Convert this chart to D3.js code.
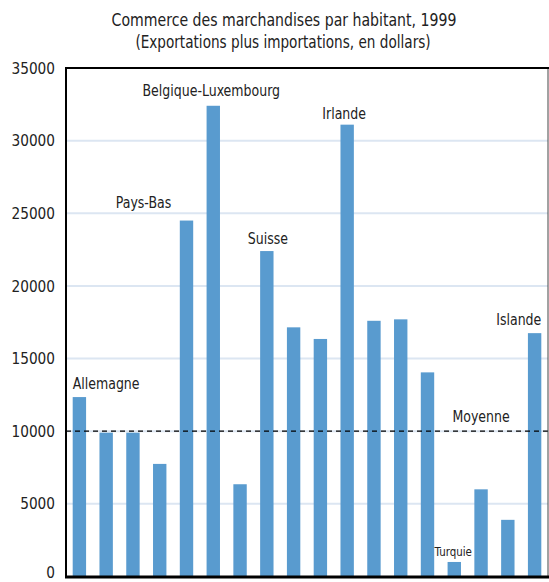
<!DOCTYPE html>
<html>
<head>
<meta charset="utf-8">
<script src="https://cdn.jsdelivr.net/npm/d3@7"></script>
<style>
  body { margin: 0; background: #fff; }
  svg { display: block; }
  text { font-family: "Liberation Sans Narrow", "DejaVu Sans Condensed", sans-serif; fill: #222; }
</style>
</head>
<body>
<svg id="chart" width="549" height="582"></svg>
<script>
// 18 pays, ordre du graphique
const countries = ["Allemagne", "Autriche", "Danemark", "France", "Pays-Bas",
    "Belgique-Luxembourg", "Espagne", "Suisse", "Finlande", "Suède", "Irlande",
    "Norvège", "Canada", "Royaume-Uni", "Turquie", "Grèce", "Pologne", "Islande"];
const values = [12350, 9900, 9900, 7750, 24500, 32400, 6350, 22400, 17150,
    16350, 31100, 17600, 17700, 14050, 1000, 6000, 3900, 16750];
const average = 10000;
const yTicks = [0, 5000, 10000, 15000, 20000, 25000, 30000, 35000];
const labelled = ["Allemagne", "Pays-Bas", "Belgique-Luxembourg", "Suisse", "Irlande", "Turquie", "Islande"];

// placement des étiquettes (décalage par rapport au sommet de la barre)
const labelPlace = {
    "Allemagne": {anchor: "start", dx: 0, dy: -8},
    "Pays-Bas": {anchor: "middle", dx: -43, dy: -13},
    "Belgique-Luxembourg": {anchor: "middle", dx: -2, dy: -10},
    "Suisse": {anchor: "middle", dx: 1, dy: -7},
    "Irlande": {anchor: "middle", dx: -3, dy: -6},
    "Turquie": {anchor: "middle", dx: -1, dy: -6, size: 13, k: 0.88},
    "Islande": {anchor: "end", dx: 0, dy: -8}
};

const svg = d3.select("#chart");
const mLeft = 66, mRight = 548, mTop = 68, mBottom = 576.5;

// la police d'origine est plus étroite : on resserre le texte
function condense(sel, k) {
    sel.each(function(d) {
        let f = typeof k == "function" ? k(d) : k;
        let w = this.getComputedTextLength();
        d3.select(this)
            .attr("textLength", w * f)
            .attr("lengthAdjust", "spacingAndGlyphs");
    });
}

const x = d3.scaleBand()
    .domain(countries)
    .range([mLeft, mRight])
    .paddingInner(0.5)
    .paddingOuter(0.25);

const y = d3.scaleLinear()
    .domain([0, 35000])
    .range([mBottom, mTop]);

// titre
svg.append("text")
    .attr("x", 284).attr("y", 26)
    .attr("text-anchor", "middle")
    .style("font-size", "18px")
    .text("Commerce des marchandises par habitant, 1999")
    .call(condense, 0.87);
svg.append("text")
    .attr("x", 283).attr("y", 48)
    .attr("text-anchor", "middle")
    .style("font-size", "18px")
    .text("(Exportations plus importations, en dollars)")
    .call(condense, 0.84);

// grille
svg.append("g")
    .selectAll("line")
    .data(yTicks.filter(d => d > 0 && d < 35000))
    .enter()
    .append("line")
    .attr("x1", mLeft).attr("x2", mRight)
    .attr("y1", d => y(d)).attr("y2", d => y(d))
    .attr("stroke", "#dce6f2")
    .attr("stroke-width", 2);

// axe y
const yAxis = svg.append("g")
    .attr("transform", "translate(" + mLeft + ",0)")
    .call(d3.axisLeft(y).tickValues(yTicks).tickSize(0).tickPadding(11).tickFormat(d3.format("d")));
yAxis.select(".domain").remove();
yAxis.selectAll("text")
    .style("font-size", "16px")
    .style("font-family", "\"Liberation Sans Narrow\", \"DejaVu Sans Condensed\", sans-serif")
    .attr("fill", "#333")
    .call(condense, 0.95);
yAxis.selectAll(".tick").filter(d => d == 0).select("text").attr("dy", "0.08em");

// barres
svg.append("g")
    .selectAll("rect")
    .data(values)
    .enter()
    .append("rect")
    .attr("x", (d, i) => x(countries[i]))
    .attr("y", d => y(d))
    .attr("width", x.bandwidth())
    .attr("height", d => y(0) - y(d))
    .attr("fill", "#599bcf");

// moyenne
svg.append("line")
    .attr("x1", mLeft).attr("x2", mRight + 1)
    .attr("y1", y(average)).attr("y2", y(average))
    .attr("stroke", "#000")
    .attr("stroke-width", 1.3)
    .attr("stroke-dasharray", "5,4");
svg.append("text")
    .attr("x", x("Grèce") + x.bandwidth() / 2)
    .attr("y", y(average) - 9)
    .attr("text-anchor", "middle")
    .style("font-size", "15px")
    .text("Moyenne")
    .call(condense, 0.93);

// étiquettes
svg.append("g")
    .selectAll("text")
    .data(labelled)
    .enter()
    .append("text")
    .attr("x", d => {
        let p = labelPlace[d];
        let bx = x(d);
        if (p.anchor == "start") return bx + p.dx;
        if (p.anchor == "end") return bx + x.bandwidth() + p.dx;
        return bx + x.bandwidth() / 2 + p.dx;
    })
    .attr("y", d => y(values[countries.indexOf(d)]) + labelPlace[d].dy)
    .attr("text-anchor", d => labelPlace[d].anchor)
    .style("font-size", d => (labelPlace[d].size || 15) + "px")
    .text(d => d)
    .call(condense, d => labelPlace[d].k || 0.93);

// cadre
svg.append("line")
    .attr("x1", mRight).attr("x2", mRight)
    .attr("y1", mTop).attr("y2", mBottom)
    .attr("stroke", "#444").attr("stroke-width", 1);
svg.append("line")
    .attr("x1", mLeft - 1).attr("x2", mRight + 1)
    .attr("y1", mTop).attr("y2", mTop)
    .attr("stroke", "#000").attr("stroke-width", 2);
svg.append("line")
    .attr("x1", mLeft).attr("x2", mLeft)
    .attr("y1", mTop - 1).attr("y2", mBottom + 1)
    .attr("stroke", "#000").attr("stroke-width", 2);
svg.append("line")
    .attr("x1", mLeft - 1).attr("x2", mRight + 1)
    .attr("y1", mBottom + 0.5).attr("y2", mBottom + 0.5)
    .attr("stroke", "#000").attr("stroke-width", 3);
</script>
</body>
</html>
